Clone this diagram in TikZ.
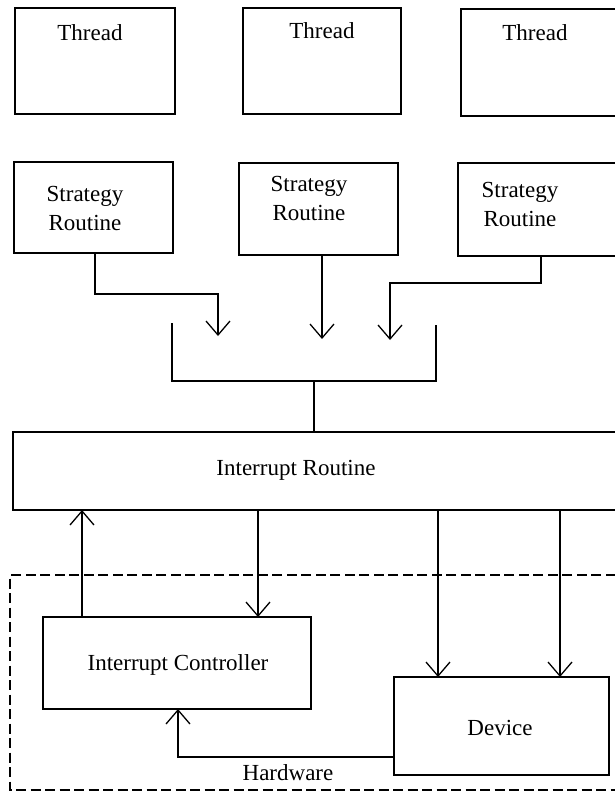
\documentclass[tikz,border=0pt]{standalone}
\usepackage{fontspec}
\setmainfont{Liberation Serif}
\usetikzlibrary{arrows.meta}

\tikzset{
  box/.style={draw, line width=1.3pt, rectangle, inner sep=0pt, outer sep=0pt},
  lbl/.style={inner sep=0pt, font=\fontsize{23}{29}\selectfont, align=center},
  link/.style={line width=1.3pt},
  arr/.style={link, -{Straight Barb[length=14pt,width=24pt,line width=1.3pt]}},
  frame/.style={line width=1.1pt, dash pattern=on 10pt off 4.5pt}
}

\begin{document}
\begin{tikzpicture}[x=1pt, y=-1pt]
  \useasboundingbox (0,0) rectangle (615,792);
  \clip (0,0) rectangle (615,792);

  % thread boxes
  \node[box, minimum width=160pt, minimum height=106pt] (T1) at (95,61) {};
  \node[box, minimum width=158pt, minimum height=106pt] (T2) at (322,61) {};
  \node[box, minimum width=179pt, minimum height=107pt] (T3) at (550.5,62.5) {};
  \node[lbl] (T1t) at (90,33) {Thread};
  \node[lbl] (T2t) at (322,31) {Thread};
  \node[lbl] (T3t) at (535,33) {Thread};

  % strategy routines
  \node[box, minimum width=159pt, minimum height=91pt] (S1) at (93.5,207.5) {};
  \node[box, minimum width=159pt, minimum height=92pt] (S2) at (318.5,209) {};
  \node[box, minimum width=182pt, minimum height=93pt] (S3) at (549,209.5) {};
  \node[lbl] (S1t) at (85,208) {Strategy\\Routine};
  \node[lbl] (S2t) at (309,198) {Strategy\\Routine};
  \node[lbl] (S3t) at (520,204) {Strategy\\Routine};

  % interrupt routine
  \node[box, minimum width=627pt, minimum height=78pt] (IR) at (326.5,471) {};
  \node[lbl] (IRt) at (296,470) {Interrupt Routine};

  % hardware
  \node[box, minimum width=268pt, minimum height=92pt] (IC) at (177,663) {};
  \node[lbl] (ICt) at (178,665) {Interrupt Controller};
  \node[box, minimum width=215pt, minimum height=98pt] (DV) at (501.5,726) {};
  \node[lbl] (DVt) at (500,728) {Device};
  \node[lbl] (HWt) at (288,773) {Hardware};
  \draw[frame] (630,575) -- (10,575) -- (10,790) -- (630,790);

  % routing points
  \coordinate (a1) at (95,294);
  \coordinate (a2) at (218,294);
  \coordinate (a3) at (218,336);
  \coordinate (b1) at (322,339);
  \coordinate (c1) at (541,283);
  \coordinate (c2) at (390,283);
  \coordinate (c3) at (390,340);
  \coordinate (k1) at (172,323);
  \coordinate (k2) at (172,381);
  \coordinate (k3) at (436,381);
  \coordinate (k4) at (436,325);
  \coordinate (m) at (314,381);
  \coordinate (u) at (82,0);
  \coordinate (d1) at (258,0);
  \coordinate (d2) at (438,0);
  \coordinate (d3) at (560,0);
  \coordinate (h1) at (178,757);

  % strategy routines feed the collector
  \draw[arr] (S1.south -| a1) -- (a1) -- (a2) -- (a3);
  \draw[arr] (S2.south -| b1) -- (b1);
  \draw[arr] (S3.south -| c1) -- (c1) -- (c2) -- (c3);
  \draw[link] (k1) -- (k2) -- (k3) -- (k4);
  \draw[link] (m) -- (IR.north -| m);

  % interrupt routine and hardware
  \draw[arr] (IC.north -| u) -- (IR.south -| u);
  \draw[arr] (IR.south -| d1) -- (IC.north -| d1);
  \draw[arr] (IR.south -| d2) -- (DV.north -| d2);
  \draw[arr] (IR.south -| d3) -- (DV.north -| d3);
  \draw[arr] (DV.west |- h1) -- (h1) -- (IC.south -| h1);
\end{tikzpicture}
\end{document}
